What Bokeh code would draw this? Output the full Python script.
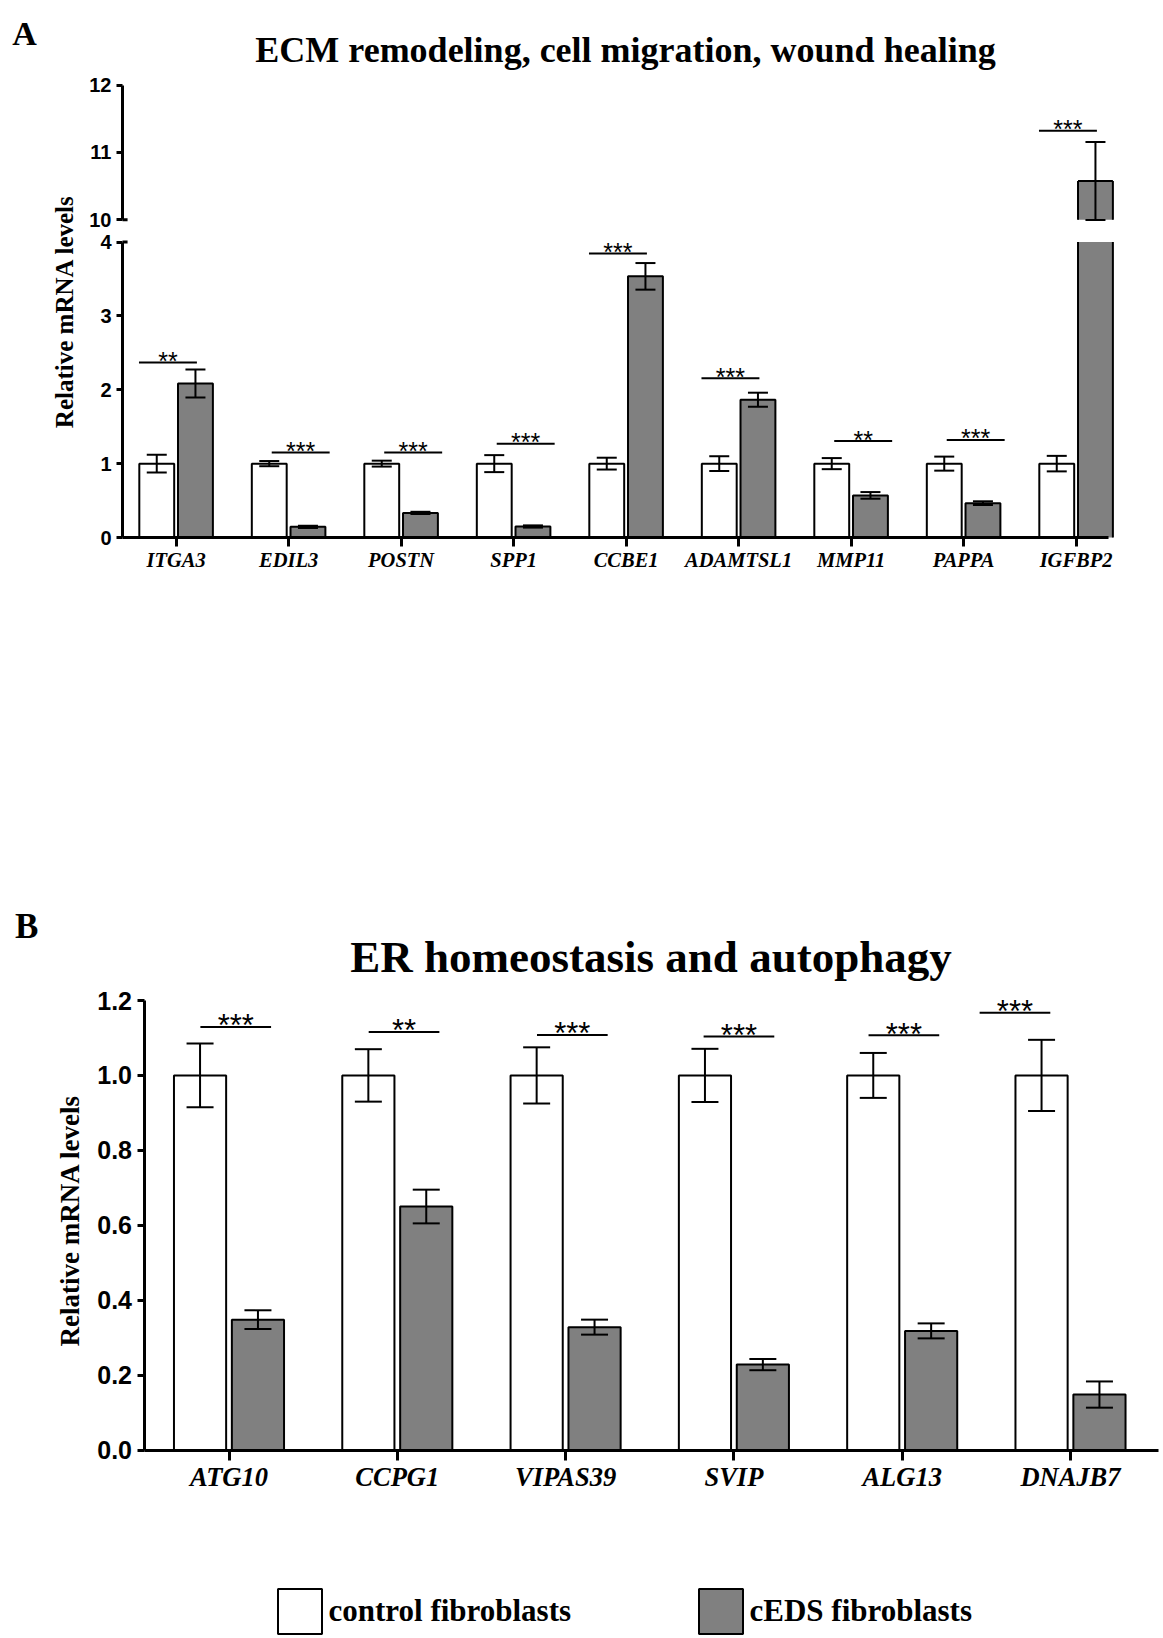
import math
from bokeh.plotting import figure
from bokeh.models import (Range1d, FixedTicker, ColumnDataSource, Whisker, LabelSet,
                          Legend, LegendItem, TeeHead, PrintfTickFormatter, LinearAxis)
from bokeh.embed import file_html
from bokeh.resources import INLINE
from bokeh.core.properties import value

# ---------------- data: panel A ----------------
genes_A = ["ITGA3", "EDIL3", "POSTN", "SPP1", "CCBE1", "ADAMTSL1", "MMP11", "PAPPA", "IGFBP2"]
ctrl_A = [1, 1, 1, 1, 1, 1, 1, 1, 1]
ctrl_err_A = [0.12, 0.035, 0.04, 0.115, 0.08, 0.1, 0.075, 0.095, 0.105]
ceds_A = [2.085, 0.144, 0.333, 0.149, 3.535, 1.865, 0.57, 0.465, 10.575]
ceds_err_A = [0.19, 0.015, 0.015, 0.015, 0.18, 0.095, 0.045, 0.025, 0.58]
sig_A = ["**", "***", "***", "***", "***", "***", "**", "***", "***"]
sig_y_A = [2.37, 1.15, 1.15, 1.27, 3.845, 2.155, 1.305, 1.32, 11.32]
ticks_A_low = [0, 1, 2, 3, 4]
ticks_A_up = [10, 11, 12]

# ---------------- data: panel B ----------------
genes_B = ["ATG10", "CCPG1", "VIPAS39", "SVIP", "ALG13", "DNAJB7"]
ctrl_B = [1, 1, 1, 1, 1, 1]
ctrl_err_B = [0.085, 0.07, 0.075, 0.071, 0.06, 0.095]
ceds_B = [0.348, 0.65, 0.328, 0.228, 0.318, 0.148]
ceds_err_B = [0.025, 0.045, 0.02, 0.015, 0.02, 0.035]
sig_B = ["***", "**", "***", "***", "***", "***"]
sig_y_B = [1.129, 1.116, 1.108, 1.104, 1.107, 1.167]
ticks_B = [0.0, 0.2, 0.4, 0.6, 0.8, 1.0, 1.2]

legend_labels = ["control fibroblasts", "cEDS fibroblasts"]

# ---------------- layout (page pixels) ----------------
W, H = 1160, 1636
SERIF = "Liberation Serif"
SANS = "Liberation Sans"
GREY = "#808080"
BAR_W = 0.31
OFF = 0.172

# panel A geometry
A_AXIS_PX, A_END_PX = 122, 1108
A_CAT0_PX, A_STEP_PX = 175.6, 112.5
A_ZERO_PY, A_FOUR_PY = 537, 241.5
A_TEN_PY, A_TWELVE_PY = 219.2, 84.5
BREAK_LO, BREAK_HI = 4, 10
# panel B geometry
B_AXIS_PX, B_END_PX = 143.5, 1158
B_CAT0_PX, B_STEP_PX = 228.5, 168.3
B_ZERO_PY, B_TOP_PY = 1449.5, 1000

# significance bar placement (category units)
SIG_LEN_A = 0.515
sig_left_B = [-0.17, -0.17, -0.17, -0.18, -0.2, -0.54]
SIG_LEN_B = 0.42


def xrange_px(v0, px0, v1, px1):
    k = (px1 - px0) / (v1 - v0)
    return Range1d(v0 - px0 / k, v0 + (W - px0) / k)


def yrange_px(v0, py0, v1, py1):
    k = (py0 - py1) / (v1 - v0)
    return Range1d(v0 - (H - py0) / k, v0 + py0 / k)


p = figure(width=W, height=H, x_range=Range1d(0, W), y_range=Range1d(H, 0),
           title=None, x_axis_type=None, y_axis_type=None, min_border=0,
           output_backend="svg", toolbar_location=None)
p.outline_line_color = None
p.background_fill_color = "white"
p.border_fill_color = "white"
p.xgrid.visible = False
p.ygrid.visible = False

p.extra_x_ranges = {
    "xA": xrange_px(0, A_CAT0_PX, 1, A_CAT0_PX + A_STEP_PX),
    "xB": xrange_px(0, B_CAT0_PX, 1, B_CAT0_PX + B_STEP_PX),
}
p.extra_y_ranges = {
    "yAlo": yrange_px(0, A_ZERO_PY, 4, A_FOUR_PY),
    "yAup": yrange_px(10, A_TEN_PY, 12, A_TWELVE_PY),
    "yB": yrange_px(0, B_ZERO_PY, 1.2, B_TOP_PY),
}

A_AX_V = (A_AXIS_PX - A_CAT0_PX) / A_STEP_PX
A_END_V = (A_END_PX - A_CAT0_PX) / A_STEP_PX
B_AX_V = (B_AXIS_PX - B_CAT0_PX) / B_STEP_PX
B_END_V = (B_END_PX - B_CAT0_PX) / B_STEP_PX


def style_y(ax, size, tick_out):
    ax.axis_line_width = 3
    ax.axis_line_color = "black"
    ax.major_tick_line_width = 3
    ax.major_tick_line_color = "black"
    ax.major_tick_in = 0
    ax.major_tick_out = tick_out
    ax.minor_tick_line_color = None
    ax.major_label_text_font = SANS
    ax.major_label_text_font_style = "bold"
    ax.major_label_text_font_size = size
    ax.major_label_text_color = "black"
    ax.major_label_standoff = 5


def style_x(ax, size, tick_out, standoff):
    ax.axis_line_width = 3
    ax.axis_line_color = "black"
    ax.major_tick_line_width = 3
    ax.major_tick_line_color = "black"
    ax.major_tick_in = 0
    ax.major_tick_out = tick_out
    ax.minor_tick_line_color = None
    ax.major_label_text_font = SERIF
    ax.major_label_text_font_style = "bold italic"
    ax.major_label_text_font_size = size
    ax.major_label_text_color = "black"
    ax.major_label_standoff = standoff


def bars(xs, vals, fill, xr, yr, lo_cap=None, up_floor=None, lw=2):
    """Draw bars; values above lo_cap are cut at the axis break."""
    whole = dict(x=[], top=[])
    cut_lo = dict(x=[], top=[], l=[], r=[])
    cut_up = dict(x=[], top=[], l=[], r=[])
    for x, v in zip(xs, vals):
        if lo_cap is None or v <= lo_cap:
            whole["x"].append(x)
            whole["top"].append(v)
        else:
            cut_lo["x"].append(x); cut_lo["top"].append(lo_cap)
            cut_lo["l"].append(x - BAR_W / 2); cut_lo["r"].append(x + BAR_W / 2)
            if up_floor is not None and v >= up_floor:
                cut_up["x"].append(x); cut_up["top"].append(v)
                cut_up["l"].append(x - BAR_W / 2); cut_up["r"].append(x + BAR_W / 2)
    r = p.vbar(x="x", top="top", bottom=0, width=BAR_W, source=ColumnDataSource(whole),
               fill_color=fill, line_color="black", line_width=lw,
               x_range_name=xr, y_range_name=yr[0])
    if cut_lo["x"]:
        s = ColumnDataSource(cut_lo)
        p.vbar(x="x", top="top", bottom=0, width=BAR_W, source=s, fill_color=fill,
               line_color=None, x_range_name=xr, y_range_name=yr[0])
        for side in ("l", "r"):
            p.segment(x0=side, x1=side, y0=0, y1="top", source=s, line_color="black",
                      line_width=lw, x_range_name=xr, y_range_name=yr[0])
    if cut_up["x"]:
        s = ColumnDataSource(cut_up)
        p.vbar(x="x", top="top", bottom=up_floor, width=BAR_W, source=s, fill_color=fill,
               line_color=None, x_range_name=xr, y_range_name=yr[1])
        for side in ("l", "r"):
            p.segment(x0=side, x1=side, y0=up_floor, y1="top", source=s, line_color="black",
                      line_width=lw, x_range_name=xr, y_range_name=yr[1])
        p.segment(x0="l", x1="r", y0="top", y1="top", source=s, line_color="black",
                  line_width=lw, x_range_name=xr, y_range_name=yr[1])
    return r


def errs(xs, vals, es, head, xr, yr):
    d = dict(x=list(xs), upper=[v + e for v, e in zip(vals, es)],
             lower=[v - e for v, e in zip(vals, es)])
    w = Whisker(base="x", upper="upper", lower="lower", source=ColumnDataSource(d),
                dimension="height", line_width=2, line_color="black", level="annotation",
                upper_head=TeeHead(size=head, line_width=2, line_color="black"),
                lower_head=TeeHead(size=head, line_width=2, line_color="black"),
                x_range_name=xr, y_range_name=yr)
    p.add_layout(w)


def sig(x0s, length, ys, texts, fsize, yoff, xr, yr):
    d = dict(x0=list(x0s), x1=[x + length for x in x0s], xm=[x + length / 2 for x in x0s],
             y=list(ys), t=list(texts))
    src = ColumnDataSource(d)
    p.segment(x0="x0", y0="y", x1="x1", y1="y", source=src, line_color="black",
              line_width=2, x_range_name=xr, y_range_name=yr)
    p.add_layout(LabelSet(x="xm", y="y", text="t", source=src, text_align="center",
                          text_baseline="alphabetic", y_offset=yoff,
                          text_font=value(SANS), text_font_size=value(fsize),
                          text_color="black", x_range_name=xr, y_range_name=yr))


# ================= Panel A =================
nA = len(genes_A)
xA = list(range(nA))
xcA = [x - OFF for x in xA]
xeA = [x + OFF for x in xA]

bars(xcA, ctrl_A, "white", "xA", ("yAlo", "yAup"), BREAK_LO, BREAK_HI)
bars(xeA, ceds_A, GREY, "xA", ("yAlo", "yAup"), BREAK_LO, BREAK_HI)

for xs, vals, es in ((xcA, ctrl_A, ctrl_err_A), (xeA, ceds_A, ceds_err_A)):
    lo = [(x, v, e) for x, v, e in zip(xs, vals, es) if v + e <= BREAK_LO]
    up = [(x, v, e) for x, v, e in zip(xs, vals, es) if v >= BREAK_HI]
    if lo:
        errs([a for a, _, _ in lo], [b for _, b, _ in lo], [c for _, _, c in lo], 20, "xA", "yAlo")
    if up:
        errs([a for a, _, _ in up], [b for _, b, _ in up], [c for _, _, c in up], 20, "xA", "yAup")

sigA_x0 = [x - 0.33 if ce > c else x - 0.15 for x, c, ce in zip(xA, ctrl_A, ceds_A)]
lo = [(x0, y, t) for x0, y, t in zip(sigA_x0, sig_y_A, sig_A) if y <= BREAK_LO]
up = [(x0, y, t) for x0, y, t in zip(sigA_x0, sig_y_A, sig_A) if y >= BREAK_HI]
sig([a for a, _, _ in lo], SIG_LEN_A, [b for _, b, _ in lo], [c for _, _, c in lo], "25px", -7.5, "xA", "yAlo")
sig([a for a, _, _ in up], SIG_LEN_A, [b for _, b, _ in up], [c for _, _, c in up], "25px", -7.5, "xA", "yAup")

axA_lo = LinearAxis(x_range_name="xA", y_range_name="yAlo", fixed_location=A_AX_V,
                    bounds=(0, BREAK_LO), ticker=FixedTicker(ticks=ticks_A_low))
axA_up = LinearAxis(x_range_name="xA", y_range_name="yAup", fixed_location=A_AX_V,
                    bounds=(BREAK_HI, ticks_A_up[-1]), ticker=FixedTicker(ticks=ticks_A_up))
for ax in (axA_lo, axA_up):
    style_y(ax, "20px", 6)
    p.add_layout(ax, "left")
axA_x = LinearAxis(x_range_name="xA", y_range_name="yAlo", fixed_location=0,
                   bounds=(A_AX_V, A_END_V), ticker=FixedTicker(ticks=xA),
                   major_label_overrides={i: g for i, g in enumerate(genes_A)})
style_x(axA_x, "20.5px", 9, 2)
p.add_layout(axA_x, "below")

# axis-break marks (tick stubs crossing the axis at the break)
p.segment(x0=[A_AX_V], x1=[A_AX_V + 0.045], y0=[BREAK_LO], y1=[BREAK_LO], line_color="black",
          line_width=3, x_range_name="xA", y_range_name="yAlo")
p.segment(x0=[A_AX_V], x1=[A_AX_V + 0.045], y0=[BREAK_HI], y1=[BREAK_HI], line_color="black",
          line_width=3, x_range_name="xA", y_range_name="yAup")

# ================= Panel B =================
nB = len(genes_B)
xB = list(range(nB))
xcB = [x - OFF for x in xB]
xeB = [x + OFF for x in xB]
r_ctrl = bars(xcB, ctrl_B, "white", "xB", ("yB", "yB"))
r_ceds = bars(xeB, ceds_B, GREY, "xB", ("yB", "yB"))
errs(xcB, ctrl_B, ctrl_err_B, 27, "xB", "yB")
errs(xeB, ceds_B, ceds_err_B, 27, "xB", "yB")
sig([x + s for x, s in zip(xB, sig_left_B)], SIG_LEN_B, sig_y_B, sig_B, "31px", -9.4, "xB", "yB")

axB_y = LinearAxis(x_range_name="xB", y_range_name="yB", fixed_location=B_AX_V,
                   bounds=(0, 1.2), ticker=FixedTicker(ticks=ticks_B),
                   formatter=PrintfTickFormatter(format="%.1f"))
style_y(axB_y, "25px", 7)
p.add_layout(axB_y, "left")
axB_x = LinearAxis(x_range_name="xB", y_range_name="yB", fixed_location=0,
                   bounds=(B_AX_V, B_END_V), ticker=FixedTicker(ticks=xB),
                   major_label_overrides={i: g for i, g in enumerate(genes_B)})
style_x(axB_x, "26.5px", 10, 2)
p.add_layout(axB_x, "below")

# ================= Texts =================
def txt(x, y, s, size, align="left", angle=0.0, baseline="alphabetic"):
    p.text(x=[x], y=[y], text=[s], angle=angle, text_font=value(SERIF), text_font_style="bold",
           text_font_size=size, text_align=align, text_baseline=baseline, text_color="black")

txt(11.7, 33.3, "A", "34px")
txt(625, 49.3, "ECM remodeling, cell migration, wound healing", "36px", "center")
txt(64, 311, "Relative mRNA levels", "25px", "center", math.pi / 2, "middle")
txt(14.5, 926, "B", "35px")
txt(650.5, 956.5, "ER homeostasis and autophagy", "45px", "center")
txt(69, 1220, "Relative mRNA levels", "27px", "center", math.pi / 2, "middle")

# ================= Legend =================
for r, lab, x0 in ((r_ctrl, legend_labels[0], 271.5), (r_ceds, legend_labels[1], 692.5)):
    lg = Legend(items=[LegendItem(label=lab, renderers=[r])], location=(x0, -2.6),
                glyph_width=55, glyph_height=56, label_standoff=2,
                label_text_font=SERIF, label_text_font_style="bold", label_text_font_size="31px",
                label_text_color="black", label_text_baseline="middle", border_line_color=None,
                background_fill_alpha=0, padding=0, margin=0)
    p.add_layout(lg)

open("out.html", "w").write(file_html(p, INLINE))
